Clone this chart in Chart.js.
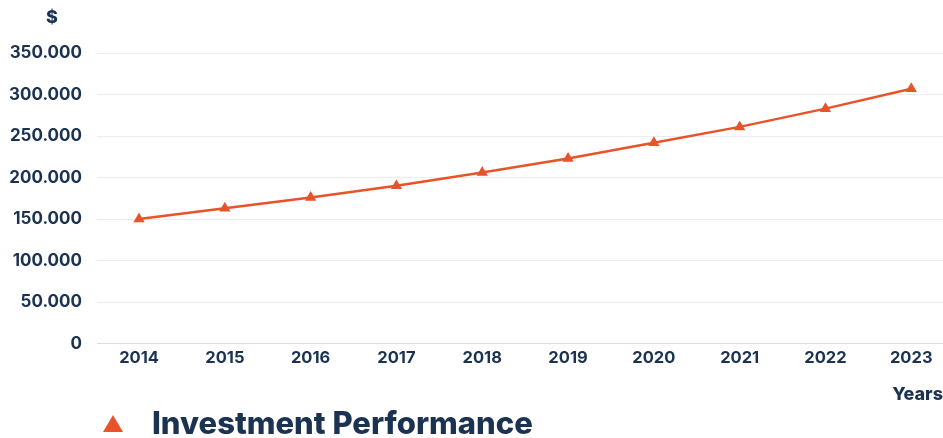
<!DOCTYPE html>
<html>
<head>
<meta charset="utf-8">
<script src="https://cdn.jsdelivr.net/npm/chart.js@4/dist/chart.umd.min.js"></script>
<style>
  html, body { margin: 0; padding: 0; background: #ffffff; overflow: hidden; }
  #wrap { position: relative; width: 943px; height: 438px; }
  #box { position: absolute; left: 0; top: 0; width: 943px; height: 405px; }
  #legend { position: absolute; left: 103px; top: 404px; display: flex; align-items: center;
            font-family: Inter, "Open Sans", sans-serif; font-weight: 800; font-size: 31px; color: #1b3350; }
  #legend .mark { width: 0; height: 0; border-left: 10px solid transparent; border-right: 10px solid transparent;
                  border-bottom-width: 17px; border-bottom-style: solid; margin-right: 29px; margin-top: 2px; }
</style>
</head>
<body>
<div id="wrap">
  <div id="box"><canvas id="chart"></canvas></div>
  <div id="legend"></div>
</div>
<script>
// Portfolio value at the end of each year
const years = [2014, 2015, 2016, 2017, 2018, 2019, 2020, 2021, 2022, 2023];
const portfolioValue = [150000, 163000, 176000, 190000, 206000, 223000, 242000, 261000, 283000, 307000];
const yTicks = [0, 50000, 100000, 150000, 200000, 250000, 300000, 350000];

const seriesName = 'Investment Performance';
const navy = '#1b3350';
const orange = '#e8532a';
const font = 'Inter, "Open Sans", sans-serif';

// Currency symbol above the value axis
const currencyLabel = {
  id: 'currencyLabel',
  afterDraw(chart) {
    const ctx = chart.ctx;
    ctx.save();
    ctx.font = '800 18px ' + font;
    ctx.fillStyle = navy;
    ctx.textAlign = 'center';
    ctx.textBaseline = 'middle';
    ctx.fillText('$', 52, 18);
    ctx.restore();
  }
};

const chart = new Chart(document.getElementById('chart'), {
  type: 'line',
  data: {
    datasets: [{
      label: seriesName,
      data: years.map((y, i) => ({ x: y, y: portfolioValue[i] })),
      borderColor: orange,
      backgroundColor: orange,
      borderWidth: 2.5,
      pointStyle: 'triangle',
      pointRadius: 4,
      pointHoverRadius: 4,
      tension: 0
    }]
  },
  options: {
    responsive: true,
    maintainAspectRatio: false,
    animation: false,
    layout: { autoPadding: false, padding: { top: 53, right: 0, left: 0, bottom: 0 } },
    plugins: {
      legend: { display: false },
      tooltip: { enabled: false }
    },
    scales: {
      x: {
        type: 'linear',
        min: 2013.51,
        max: 2023.37,
        afterBuildTicks(scale) { scale.ticks = years.map(v => ({ value: v })); },
        grid: { display: false, drawTicks: false },
        border: { display: true, color: '#dedede', width: 1 },
        ticks: {
          padding: 5,
          color: navy,
          font: { family: font, size: 16.5, weight: '700' },
          callback: v => String(v)
        },
        title: {
          display: true,
          text: 'Years',
          align: 'end',
          color: navy,
          font: { family: font, size: 18, weight: '800' },
          padding: { top: 10, bottom: 0 }
        }
      },
      y: {
        min: 0,
        max: 350000,
        afterBuildTicks(scale) { scale.ticks = yTicks.map(v => ({ value: v })); },
        afterFit(scale) { scale.width = 97; },
        grid: { color: '#ececec', lineWidth: 1, drawTicks: false },
        border: { display: false },
        ticks: {
          padding: 15,
          color: navy,
          font: { family: font, size: 17, weight: '700' },
          callback: v => v.toLocaleString('de-DE')
        }
      }
    }
  },
  plugins: [currencyLabel]
});

// Legend entry built from the dataset
const ds = chart.data.datasets[0];
const legend = document.getElementById('legend');
const mark = document.createElement('span');
mark.className = 'mark';
mark.style.borderBottomColor = ds.borderColor;
const txt = document.createElement('span');
txt.textContent = ds.label;
legend.appendChild(mark);
legend.appendChild(txt);
</script>
</body>
</html>
